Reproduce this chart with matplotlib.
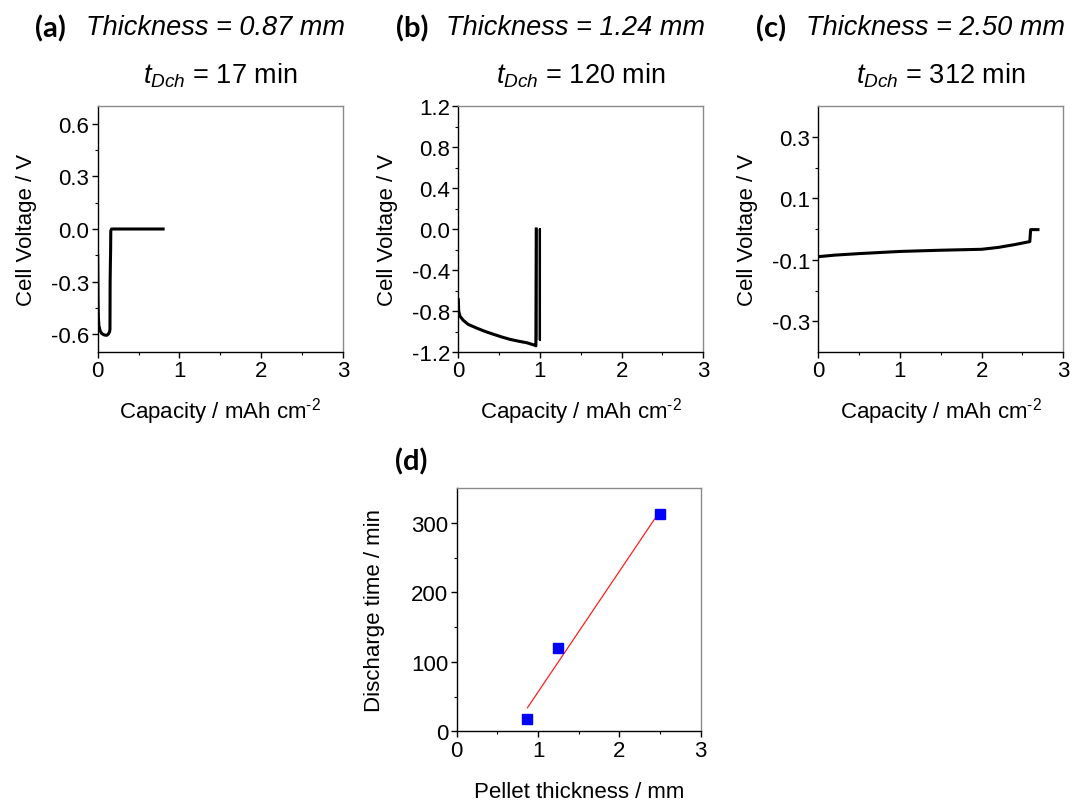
import numpy as np
import matplotlib
matplotlib.use("Agg")
import matplotlib.pyplot as plt

plt.rcParams['font.family'] = ['Liberation Sans', 'DejaVu Sans']
plt.rcParams['mathtext.fontset'] = 'custom'
plt.rcParams['mathtext.rm'] = 'Liberation Sans'
plt.rcParams['mathtext.it'] = 'Liberation Sans:italic'
plt.rcParams['mathtext.bf'] = 'Liberation Sans:bold'

# ---------------- data ----------------
panel_labels = ['(a)', '(b)', '(c)']
thickness_mm = [0.87, 1.24, 2.50]
discharge_min = [17, 120, 312]

# (a) 0.87 mm
a_cap = [0.0, 0.004, 0.008, 0.015, 0.03, 0.05, 0.08, 0.11, 0.13, 0.145, 0.15, 0.152, 0.155, 0.158, 0.16, 0.17, 0.40, 0.80]
a_volt = [-0.15, -0.40, -0.50, -0.55, -0.58, -0.595, -0.603, -0.605, -0.598, -0.585, -0.57, -0.30, -0.20, -0.12, -0.01, 0.0, 0.0, 0.0]

# (b) 1.24 mm
b_cap = [0.0, 0.005, 0.02, 0.06, 0.12, 0.22, 0.33, 0.43, 0.53, 0.63, 0.74, 0.84, 0.94, 0.95, 0.955]
b_volt = [-0.69, -0.80, -0.85, -0.89, -0.93, -0.965, -1.00, -1.027, -1.053, -1.076, -1.095, -1.11, -1.135, -1.14, 0.0]
b_pulse_cap = [0.955, 1.005]
b_pulse_volt = [-1.085, 0.0]

# (c) 2.50 mm
c_cap = [0.0, 0.2, 0.5, 1.0, 1.5, 2.0, 2.2, 2.4, 2.59, 2.60, 2.69]
c_volt = [-0.090, -0.085, -0.080, -0.073, -0.069, -0.066, -0.060, -0.051, -0.041, -0.002, -0.002]

a_yticks = [-0.6, -0.3, 0.0, 0.3, 0.6]
b_yticks = [-1.2, -0.8, -0.4, 0.0, 0.4, 0.8, 1.2]
c_yticks = [-0.3, -0.1, 0.1, 0.3]
d_yticks = [0, 100, 200, 300]
cap_xticks = [0, 1, 2, 3]

# ---------------- figure ----------------
W, H = 1077, 803
fig = plt.figure(figsize=(W / 100, H / 100), dpi=100)

def px_axes(left, top, right, bottom):
    return fig.add_axes([left / W, 1 - bottom / H, (right - left) / W, (bottom - top) / H])

TICK_FS = 16
LAB_FS = 16

def style(ax):
    for s in ['top', 'right']:
        ax.spines[s].set_color('#8a8a8a')
    for s in ['left', 'bottom']:
        ax.spines[s].set_color('black')
    for s in ax.spines.values():
        s.set_linewidth(1.0)
    ax.tick_params(which='major', direction='out', length=4, width=1, labelsize=TICK_FS, pad=2)
    ax.tick_params(which='minor', direction='out', length=2, width=0.8)
    ax.tick_params(top=False, right=False)

ax_a = px_axes(97.7, 107, 343, 353)
ax_b = px_axes(458.3, 107, 703.3, 353)
ax_c = px_axes(818.3, 107, 1063.3, 353)
ax_d = px_axes(456.7, 489, 700.7, 732.3)

# (a)
ax_a.plot(a_cap, a_volt, color='black', lw=2.2)
ax_a.set_xlim(0, 3)
ax_a.set_ylim(-0.7, 0.7)
ax_a.set_yticks(a_yticks)
ax_a.set_yticklabels([f'{v:.1f}' for v in a_yticks])
ax_a.set_yticks(np.arange(-0.45, 0.7, 0.3), minor=True)

# (b)
ax_b.plot(b_cap, b_volt, color='black', lw=2.2)
ax_b.fill_betweenx(b_pulse_volt, b_pulse_cap[0], b_pulse_cap[1], color='#8c8c8c', lw=0)
for xc in b_pulse_cap:
    ax_b.plot([xc, xc], b_pulse_volt, color='black', lw=1.5)
ax_b.set_xlim(0, 3)
ax_b.set_ylim(-1.2, 1.2)
ax_b.set_yticks(b_yticks)
ax_b.set_yticklabels([f'{v:.1f}' for v in b_yticks])
ax_b.set_yticks(np.arange(-1.0, 1.2, 0.4), minor=True)

# (c)
ax_c.plot(c_cap, c_volt, color='black', lw=2.2)
ax_c.set_xlim(0, 3)
ax_c.set_ylim(-0.4, 0.4)
ax_c.set_yticks(c_yticks)
ax_c.set_yticklabels([f'{v:.1f}' for v in c_yticks])
ax_c.set_yticks([-0.2, 0.0, 0.2], minor=True)

for ax in (ax_a, ax_b, ax_c):
    ax.set_xticks(cap_xticks)
    ax.set_xticks([0.5, 1.5, 2.5], minor=True)
    style(ax)
    ax.set_xlabel(r'Capacity / mAh cm$^{\text{-2}}$', fontsize=LAB_FS, labelpad=10)
    ax.set_ylabel('Cell Voltage / V', fontsize=LAB_FS, labelpad=10)

# (d)
ax_d.plot(thickness_mm, discharge_min, 's', color='#0000ff', ms=7, zorder=3)
coef = np.polyfit(thickness_mm, discharge_min, 1)
xfit = np.array([min(thickness_mm), max(thickness_mm)])
ax_d.plot(xfit, np.polyval(coef, xfit), color='#ff2020', lw=0.9, zorder=2)
ax_d.set_xlim(0, 3)
ax_d.set_ylim(0, 350)
ax_d.set_xticks(cap_xticks)
ax_d.set_xticks([0.5, 1.5, 2.5], minor=True)
ax_d.set_yticks(d_yticks)
ax_d.set_yticks([50, 150, 250], minor=True)
style(ax_d)
ax_d.set_xlabel('Pellet thickness / mm', fontsize=LAB_FS, labelpad=15)
ax_d.set_ylabel('Discharge time / min', fontsize=LAB_FS, labelpad=19)

# ---------------- titles ----------------
TITLE_FS = 19.5
lab_x = [35, 396, 756]
thick_x = [86, 446, 806]
centers = [220.3, 580.8, 940.8]
for i in range(3):
    fig.text(lab_x[i] / W, 1 - 29 / H, panel_labels[i], fontsize=21, fontweight='bold',
             family=['Lato', 'DejaVu Sans'], ha='left', va='center')
    fig.text(thick_x[i] / W, 1 - 28 / H, f'Thickness = {thickness_mm[i]:.2f} mm',
             fontsize=TITLE_FS, style='italic', ha='left', va='center')
    fig.text(centers[i] / W, 1 - 76 / H, r'$t_{Dch}$' + f' = {discharge_min[i]} min',
             fontsize=TITLE_FS, ha='center', va='center')
fig.text(395 / W, 1 - 462 / H, '(d)', fontsize=21, fontweight='bold',
         family=['Lato', 'DejaVu Sans'], ha='left', va='center')

fig.savefig('out.png', dpi=100)
